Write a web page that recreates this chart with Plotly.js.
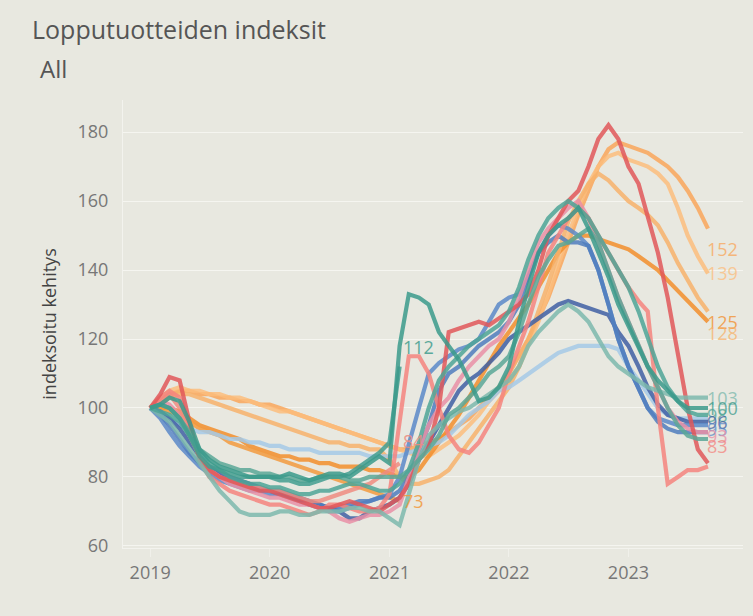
<!DOCTYPE html>
<html><head><meta charset="utf-8">
<script src="https://cdn.plot.ly/plotly-3.0.1.min.js"></script>
<style>html,body{margin:0;padding:0;background:#e8e8e0;}#chart{width:753px;height:616px;}</style>
</head><body><div id="chart"></div>
<script>
const months = ["2019-01","2019-02","2019-03","2019-04","2019-05","2019-06","2019-07","2019-08","2019-09","2019-10","2019-11","2019-12",
"2020-01","2020-02","2020-03","2020-04","2020-05","2020-06","2020-07","2020-08","2020-09","2020-10","2020-11","2020-12",
"2021-01","2021-02","2021-03","2021-04","2021-05","2021-06","2021-07","2021-08","2021-09","2021-10","2021-11","2021-12",
"2022-01","2022-02","2022-03","2022-04","2022-05","2022-06","2022-07","2022-08","2022-09","2022-10","2022-11","2022-12",
"2023-01","2023-02","2023-03","2023-04","2023-05","2023-06","2023-07","2023-08","2023-09"];

const o1 = [100,102,104,105,105,104,104,103,103,102,102,101, 101,100,99,98,97,96,95,94,93,92,91,90, 89,88,88,89,90,91,93,95,97,100,103,106, 110,115,120,126,132,140,148,156,163,170,175,177, 176,175,174,172,170,167,163,158,152];
const o2 = [100,103,105,106,105,105,104,104,103,103,102,101, 100,99,99,98,97,96,95,94,93,92,91,90, 89,88,87,86,86,88,90,92,95,98,102,105, 108,112,118,125,133,142,150,158,165,170,173,174, 172,171,170,168,165,158,150,144,139];
const o3 = [100,100,100,99,97,95,94,93,92,91,89,88, 87,86,86,85,85,84,84,83,83,83,82,82, 81,80,80,82,86,90,94,98,103,108,113,118, 122,126,130,135,140,145,148,150,150,149,148,147, 146,144,142,140,137,134,131,128,125];
const o4 = [100,101,103,104,104,103,102,101,100,99,98,97, 96,95,94,93,92,91,90,90,89,89,88,88, 85,80,78,78,79,80,82,86,90,94,98,102, 106,112,120,128,136,145,154,160,165,168,166,163, 160,158,156,153,148,142,137,132,128];
const o5 = [100,100,99,98,96,94,93,92,90,89,88,87, 86,85,84,83,82,81,80,79,78,77,76,75, 74,73];
const r1 = [100,104,109,108,96,85,82,80,79,78,77,76, 76,75,74,73,72,71,71,72,73,72,71,70, 72,74,78,85,89,100,122,123,124,125,124,126, 128,130,133,140,150,155,160,163,170,178,182,178, 170,165,155,145,132,116,100,88,84];
const p1 = [100,103,105,103,95,85,80,78,76,75,74,73, 72,72,71,70,69,70,72,72,71,70,70,71, 75,95,115,115,110,100,92,88,87,90,95,100, 110,118,125,135,145,150,155,158,155,150,145,140, 135,131,128,100,78,80,82,82,83];
const p2 = [100,102,101,98,92,86,82,80,78,77,76,75, 74,74,73,72,72,71,70,68,67,68,69,69, 70,72,80,88,95,100,103,108,112,115,118,120, 125,132,140,148,152,155,158,160,155,148,140,132, 125,118,112,106,100,96,94,93,93];
const p3 = [100,102,104,100,93,86,82,80,79,78,77,77, 76,76,75,74,73,73,74,75,76,77,78,80, 82,84];
const t1 = [100,101,103,102,96,88,85,83,82,81,80,80, 80,80,81,80,79,80,81,81,80,82,84,86, 84,118,133,132,130,122,118,114,108,102,103,106, 112,125,135,145,150,153,155,158,152,145,138,130, 124,118,112,108,105,102,100,100,100];
const t2 = [100,101,100,97,92,86,83,82,81,80,80,80, 80,79,79,78,78,79,80,80,81,83,85,87, 90,112];
const t3 = [100,99,98,96,92,87,84,82,80,79,78,78, 77,77,76,75,75,76,76,77,78,78,77,76, 76,78,82,90,100,108,112,115,118,120,122,124, 128,135,143,150,155,158,160,158,155,150,145,140, 135,128,120,112,106,102,99,98,98];
const t4 = [100,98,96,92,88,84,80,76,73,70,69,69, 69,70,70,69,69,70,70,70,71,71,70,70, 68,66,75,85,92,95,97,99,100,102,104,106, 108,112,118,122,125,128,130,128,125,120,115,112, 110,108,106,105,104,103,103,103,103];
const t5 = [100,101,100,97,93,88,86,84,83,82,82,81, 81,80,80,79,79,80,80,80,79,79,80,80, 80,80,82,85,88,92,98,100,103,106,110,112, 115,122,130,138,143,147,148,150,152,148,140,132, 125,118,112,106,100,95,92,91,91];
const b1 = [100,99,97,94,90,86,83,81,80,79,78,77, 76,76,75,74,73,72,71,70,68,68,70,71, 72,74,78,85,90,95,100,105,108,110,113,116, 120,122,124,126,128,130,131,130,129,128,127,122, 118,112,106,101,98,97,96,96,96];
const b2 = [100,97,93,89,86,83,81,79,78,77,76,76, 75,75,74,73,72,71,70,70,71,72,73,74, 75,80,90,100,110,113,115,117,118,120,125,130, 132,133,138,145,150,153,152,150,147,140,130,120, 112,106,100,97,96,95,95,95,95];
const b3 = [100,99,97,95,94,93,93,92,91,91,90,90, 89,89,88,88,88,87,87,87,87,87,86,86, 86,86,87,88,89,90,92,95,98,100,102,105, 106,108,110,112,114,116,117,118,118,118,118,117, 112,108,104,100,98,97,97,97,97];
const b4 = [100,98,95,91,87,84,82,80,79,78,77,77, 76,75,74,73,72,72,71,71,72,73,73,74, 74,76,80,88,95,105,110,112,115,118,120,122, 125,130,138,145,148,150,148,148,147,140,130,120, 112,106,100,96,94,93,93,93,93];

const yTicks = [60,80,100,120,140,160,180];
const xTickVals = ["2019-01-01","2020-01-01","2021-01-01","2022-01-01","2023-01-01"];
const xTickText = ["2019","2020","2021","2022","2023"];

// [values, colour, show end label]
const seriesList = [
  [o1,'#f9a65a',true],[o2,'#fcbd7c',true],[o3,'#f28e2b',true],[o4,'#f7b26b',true],[o5,'#f29a3e',true],
  [b3,'#a5c9e6',false],[b1,'#3f5fa3',true],[b2,'#5b88c8',true],[b4,'#4f7dbd',false],
  [p2,'#e98fa6',true],[p3,'#ee8c80',true],[p1,'#f4847e',true],[r1,'#e15759',false],
  [t4,'#7db9ad',true],[t5,'#5aa797',false],[t3,'#4ea596',true],[t2,'#439e8f',true],[t1,'#3b9a8b',true]
];
// label placement nudges in px (positive = downward), as in the reference
const labelNudge = {112:-20, 84:-22, 73:0, 152:20, 128:22, 83:-21};

const font = '"Open Sans", "DejaVu Sans", sans-serif';
const yMin = 59.4, yMax = 189.3, plotTop = 100, plotH = 448;
const toPx = v => plotTop + (yMax - v) / (yMax - yMin) * plotH;

const traces = [];
seriesList.forEach(([vals,col]) => {
  traces.push({type:'scatter',mode:'lines',x:months.slice(0,vals.length),y:vals,
    line:{color:col,width:4.2,shape:'linear'},opacity:0.85,hoverinfo:'skip',showlegend:false});
});

const annotations = [{text:'All',xref:'paper',yref:'paper',x:(38-123)/620,y:(548-68)/448,
    xanchor:'left',yanchor:'middle',showarrow:false,font:{size:24,color:'#555',family:font}}];

const endLabels = [];
seriesList.forEach(([vals,col,show]) => {
  if (!show) return;
  const n = vals.length-1;
  const v = vals[n];
  const nudge = labelNudge[v] || 0;
  if (n === months.length-1) endLabels.push({x:months[n],v:v,col:col,py:toPx(v),pref:toPx(v)+nudge});
  else annotations.push({x:months[n],y:v,xref:'x',yref:'y',text:String(v),showarrow:false,
    xanchor:'left',yanchor:'middle',xshift:1,yshift:-nudge,
    font:{size:18,color:col,family:font},opacity:0.85});
});
endLabels.sort((a,b)=>a.pref-b.pref);
let prev = -1e9;
endLabels.forEach(l => {
  const ny = Math.max(l.pref, prev + 7);
  prev = ny;
  annotations.push({x:l.x,y:l.v,xref:'x',yref:'y',text:String(l.v),showarrow:false,
    xanchor:'left',yanchor:'middle',xshift:-3,yshift:-(ny - l.py),
    font:{size:18,color:l.col,family:font},opacity:0.75});
});

const layout = {
  width:753,height:616,
  paper_bgcolor:'#e8e8e0',plot_bgcolor:'#e8e8e0',
  margin:{l:123,r:10,t:100,b:68},
  title:{text:'Lopputuotteiden indeksit',x:32/753,xanchor:'left',y:1-30/616,yanchor:'middle',
    font:{size:25,color:'#555',family:font}},
  annotations:annotations,
  xaxis:{type:'date',range:['2018-10-10','2023-12-17'],tickvals:xTickVals,ticktext:xTickText,
    showgrid:false,zeroline:false,showline:true,linecolor:'#f3f3ee',linewidth:1,
    ticks:'outside',ticklen:8,tickcolor:'#f0f0ea',
    tickfont:{size:18,color:'#777',family:font}},
  yaxis:{range:[yMin,yMax],tickvals:yTicks,showgrid:true,gridcolor:'#f5f5f0',gridwidth:1,
    zeroline:false,showline:true,linecolor:'#f3f3ee',ticks:'',ticklabelstandoff:10,
    tickfont:{size:18,color:'#777',family:font},
    title:{text:'indeksoitu kehitys',standoff:16,font:{size:18,color:'#444',family:font}}},
  showlegend:false
};
Plotly.newPlot('chart',traces,layout,{displayModeBar:false,staticPlot:true});
</script>
</body></html>
